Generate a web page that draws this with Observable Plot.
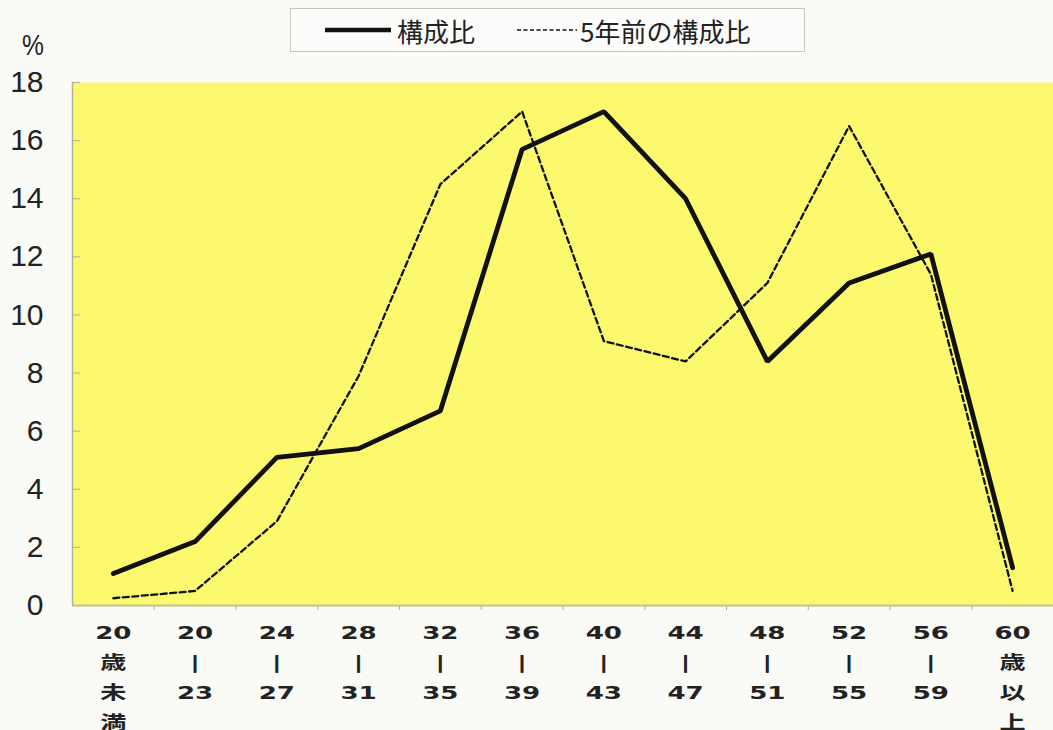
<!DOCTYPE html>
<html><head><meta charset="utf-8">
<script src="https://cdn.jsdelivr.net/npm/d3@7"></script>
<script src="https://cdn.jsdelivr.net/npm/@observablehq/plot@0.6"></script>
<style>
body{margin:0;background:#fafaf6;font-family:"Liberation Sans",Arial,sans-serif;}
#wrap{position:relative;width:1053px;height:730px;overflow:hidden;}
#legend{position:absolute;left:290px;top:8px;width:513px;height:42px;border:1.5px solid #c6c6c2;background:#fcfcfa;display:flex;align-items:center;font-family:"Noto Sans CJK JP",sans-serif;font-size:26px;color:#222;}
#legend .item{display:flex;align-items:center;}
#pct{position:absolute;left:22px;top:29px;font-size:29px;transform:scaleX(0.85);transform-origin:left;color:#222;font-family:"Liberation Sans",Arial,sans-serif;}
#chart{position:absolute;left:0;top:0;}
</style></head>
<body>
<div id="wrap">
  <div id="chart"></div>
  <div id="pct">%</div>
  <div id="legend">
    <div class="item" style="margin-left:34px"><svg width="66" height="10"><line x1="0" y1="5" x2="66" y2="5" stroke="#111" stroke-width="4.5"/></svg><span style="margin-left:6px">構成比</span></div>
    <div class="item" style="margin-left:42px"><svg width="60" height="10"><line x1="0" y1="5" x2="60" y2="5" stroke="#111" stroke-width="1.5" stroke-dasharray="4,2.5"/></svg><span style="margin-left:3px">5年前の構成比</span></div>
  </div>
</div>
<script>
const ageGroups = ["20歳未満","20-23","24-27","28-31","32-35","36-39","40-43","44-47","48-51","52-55","56-59","60歳以上"];
const tickLabels = ["20\n歳\n未\n満","20\n|\n23","24\n|\n27","28\n|\n31","32\n|\n35","36\n|\n39","40\n|\n43","44\n|\n47","48\n|\n51","52\n|\n55","56\n|\n59","60\n歳\n以\n上"];
const share = [1.1, 2.2, 5.1, 5.4, 6.7, 15.7, 17.0, 14.0, 8.4, 11.1, 12.1, 1.3];
const share5yAgo = [0.25, 0.5, 2.9, 7.9, 14.5, 17.0, 9.1, 8.4, 11.1, 16.5, 11.4, 0.5];
const yTicks = [0, 2, 4, 6, 8, 10, 12, 14, 16, 18];

const idx = ageGroups.map((_, i) => i);
const bounds = ageGroups.slice(1).map((_, i) => i + 0.5);
const cur = share.map((v, i) => ({i, v}));
const old = share5yAgo.map((v, i) => ({i, v}));

const W = 1053, H = 730, ML = 72;
const plot = Plot.plot({
  width: W, height: H,
  marginLeft: ML, marginRight: 0, marginTop: 82, marginBottom: 125,
  style: {background: "transparent", fontFamily: "Liberation Sans, Arial, sans-serif"},
  x: {domain: [-0.5, ageGroups.length - 0.5], axis: null},
  y: {domain: [0, 18], axis: null},
  marks: [
    Plot.frame({fill: "#fcf96e", stroke: "none"}),
    Plot.tickY(yTicks.filter(d => d > 0), {y: d => d, stroke: "#b8b8a0", strokeWidth: 1.2, insetRight: W - ML - 8}),
    Plot.axisY({ticks: yTicks, label: null, tickSize: 0, tickPadding: 29, fontSize: 30, fill: "#222", tickFormat: d => String(d)}),
    Plot.axisX({ticks: bounds, label: null, tickSize: 5, stroke: "#aaa", tickFormat: () => ""}),
    Plot.axisX({ticks: idx, label: null, tickSize: 0, tickPadding: 12, tickFormat: i => tickLabels[i], fontSize: 18, lineHeight: 1.667, fontWeight: "bold", fontFamily: "DejaVu Sans, Noto Sans CJK JP, sans-serif", fill: "#222"}),
    Plot.ruleY([0], {stroke: "#c2c290", strokeWidth: 2}),
    Plot.ruleX([-0.5], {stroke: "#b0b0a0", strokeWidth: 1.5}),
    Plot.line(old, {x: "i", y: "v", stroke: "#111", strokeWidth: 2.3, strokeDasharray: "6,3.5"}),
    Plot.line(cur, {x: "i", y: "v", stroke: "#111", strokeWidth: 4.8, strokeLinejoin: "miter"})
  ]
});
document.getElementById("chart").appendChild(plot);
d3.select(plot).selectAll('g[aria-label="x-axis tick label"] text').each(function() {
  const t = this.getAttribute("transform") || "";
  this.setAttribute("transform", t + " scale(1.45,1)");
});
</script>
</body></html>
